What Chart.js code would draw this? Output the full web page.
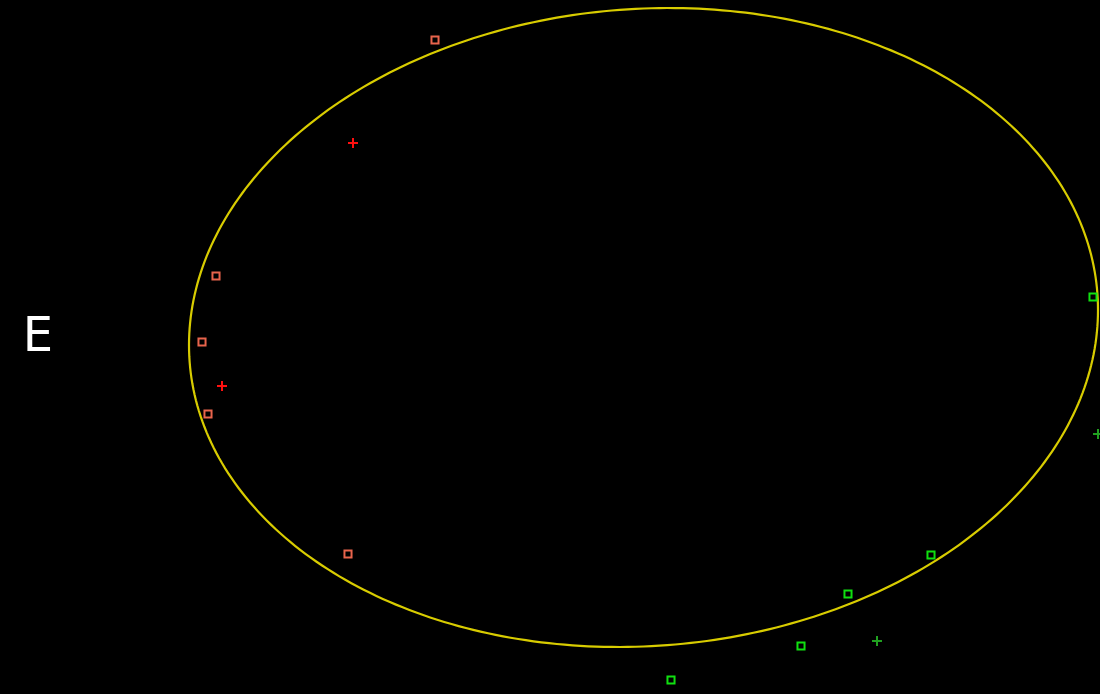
<!DOCTYPE html>
<html>
<head>
<meta charset="utf-8">
<script src="https://cdn.jsdelivr.net/npm/chart.js@4/dist/chart.umd.min.js"></script>
<style>
html,body{margin:0;padding:0;background:#000;}
#wrap{width:1100px;height:694px;}
</style>
</head>
<body>
<div id="wrap"><canvas id="c"></canvas></div>
<script>
// points (x, y in screen-like units)
let salmonX = [435, 216, 202, 208, 348]
let salmonY = [40, 276, 342, 414, 554]
let redPlusX = [353, 222]
let redPlusY = [143, 386]
let greenX = [1093, 931, 848, 801, 671]
let greenY = [297, 555, 594, 646, 680]
let greenPlusX = [877, 1098]
let greenPlusY = [641, 434]

// ellipse: centre, radii, skew
let ellCx = 643.5
let ellCy = 327.5
let ellRx = 454.5
let ellRy = 319.5
let ellSkew = -0.055

let label = "E"

function pts(xs, ys){
  return xs.map((x,i)=>({x:x, y:ys[i]}))
}

let ellipsePlugin = {
  id:"ellipse",
  beforeDatasetsDraw(chart){
    let ctx = chart.ctx
    let xs = chart.scales.x
    let ys = chart.scales.y
    ctx.save()
    ctx.strokeStyle = "#d8cc00"
    ctx.lineWidth = 2.2
    ctx.beginPath()
    for(let i=0;i<=360;i++){
      let t = i*Math.PI/180
      let px = xs.getPixelForValue(ellCx + ellRx*Math.cos(t))
      let py = ys.getPixelForValue(ellCy + ellRy*Math.sin(t + ellSkew))
      if(i==0) ctx.moveTo(px,py)
      else ctx.lineTo(px,py)
    }
    ctx.closePath()
    ctx.stroke()
    // letter on the left
    ctx.fillStyle = "#ffffff"
    ctx.font = "48px 'DejaVu Sans', sans-serif"
    ctx.textAlign = "center"
    ctx.textBaseline = "middle"
    ctx.fillText(label, xs.getPixelForValue(38), ys.getPixelForValue(339))
    ctx.restore()
  }
}

new Chart(document.getElementById("c"),{
  type:"scatter",
  data:{
    datasets:[
      {label:"s1", data:pts(salmonX,salmonY), pointStyle:"rect", pointRadius:5, borderWidth:2, borderColor:"#e8644c", backgroundColor:"rgba(0,0,0,0)", clip:false},
      {label:"p1", data:pts(redPlusX,redPlusY), pointStyle:"cross", pointRadius:5, borderWidth:2, borderColor:"#ff1010", backgroundColor:"#ff1010", clip:false},
      {label:"s2", data:pts(greenX,greenY), pointStyle:"rect", pointRadius:5, borderWidth:2, borderColor:"#10e010", backgroundColor:"rgba(0,0,0,0)", clip:false},
      {label:"p2", data:pts(greenPlusX,greenPlusY), pointStyle:"cross", pointRadius:5, borderWidth:2, borderColor:"#20a020", backgroundColor:"#20a020", clip:false}
    ]
  },
  options:{
    responsive:true,
    maintainAspectRatio:false,
    animation:false,
    layout:{padding:0, autoPadding:false},
    plugins:{legend:{display:false}, tooltip:{enabled:false}},
    scales:{
      x:{type:"linear", min:0, max:1100, display:false},
      y:{type:"linear", min:0, max:694, reverse:true, display:false}
    }
  },
  plugins:[ellipsePlugin]
})
</script>
</body>
</html>
